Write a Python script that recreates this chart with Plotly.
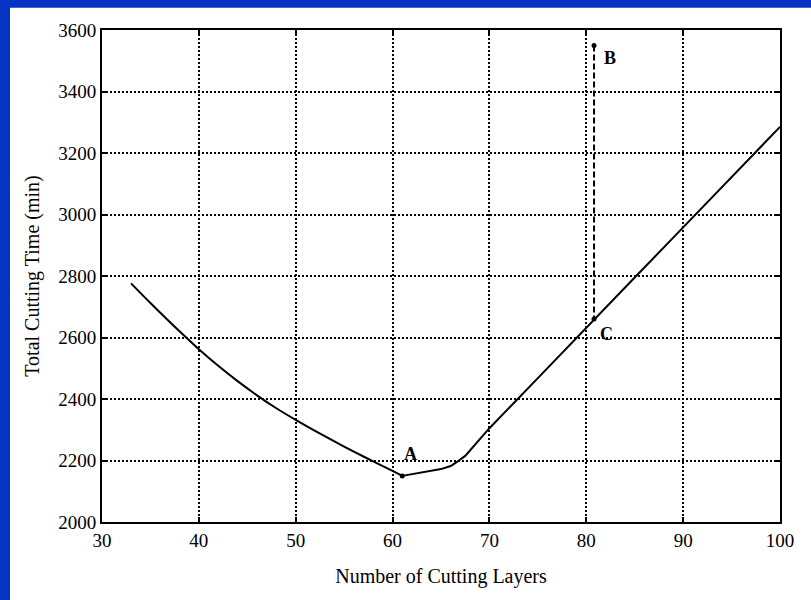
import plotly.graph_objects as go

# Data
left_x = [33, 35, 38, 40, 42, 44, 46, 48, 50, 52, 54, 56, 58, 60, 61]
left_y = [2776, 2712, 2620, 2562, 2508, 2458, 2412, 2370, 2332, 2296, 2262, 2229, 2197, 2166, 2150]
right_x = [61, 63, 65, 66, 66.5, 67.5, 70, 75, 80, 85, 90, 95, 100]
right_y = [2150, 2160, 2172, 2182, 2192, 2215, 2305, 2468, 2630, 2795, 2958, 3122, 3285]

point_names = ["A", "B", "C"]
point_x = [61, 80.8, 80.8]
point_y = [2150, 3550, 2660]

bc_x = [80.8, 80.8]
bc_y = [3550, 2660]

x_ticks = [30, 40, 50, 60, 70, 80, 90, 100]
y_ticks = [2000, 2200, 2400, 2600, 2800, 3000, 3200, 3400, 3600]

serif = "Liberation Serif, Times New Roman, serif"

fig = go.Figure()
fig.add_trace(go.Scatter(x=left_x, y=left_y, mode="lines", line_shape="spline",
                         line=dict(color="black", width=2, smoothing=0.8), showlegend=False))
fig.add_trace(go.Scatter(x=right_x, y=right_y, mode="lines",
                         line=dict(color="black", width=2), showlegend=False))
fig.add_trace(go.Scatter(x=bc_x, y=bc_y, mode="lines",
                         line=dict(color="black", width=2, dash="6px,3px"), showlegend=False))
fig.add_trace(go.Scatter(x=point_x, y=point_y, mode="markers",
                         marker=dict(color="black", size=5), showlegend=False))

label_dx = [0.8, 1.6, 1.3]
label_dy = [70, -40, -50]
for n, x, y, dx, dy in zip(point_names, point_x, point_y, label_dx, label_dy):
    fig.add_annotation(x=x + dx, y=y + dy, text="<b>%s</b>" % n, showarrow=False,
                       font=dict(family=serif, size=18, color="black"))

# white scanned sheet on blue slide
fig.add_shape(type="rect", xref="paper", yref="paper",
              x0=-0.1357, x1=1.2, y0=-0.3, y1=1.045,
              fillcolor="white", line=dict(width=0), layer="below")

axis_common = dict(showline=True, linecolor="black", linewidth=2, mirror="ticks",
                   ticks="inside", ticklen=5, tickwidth=2, tickcolor="black",
                   showgrid=True, gridcolor="black", gridwidth=1.5, griddash="2px,2px",
                   zeroline=False,
                   tickfont=dict(family=serif, size=19, color="black"))

fig.update_xaxes(range=[30, 100], tickvals=x_ticks,
                 title=dict(text="Number of Cutting Layers", font=dict(family=serif, size=20, color="black"),
                            standoff=19),
                 **axis_common)
fig.update_yaxes(range=[2000, 3600], tickvals=y_ticks,
                 title=dict(text="Total Cutting Time (min)", font=dict(family=serif, size=20, color="black"),
                            standoff=13),
                 **axis_common)

fig.update_layout(width=811, height=600,
                  margin=dict(l=102, r=31, t=30, b=78),
                  paper_bgcolor="#0633c4", plot_bgcolor="white",
                  showlegend=False)

fig.write_html("out.html", config={"displayModeBar": False},
               post_script="document.body.style.margin='0';document.body.style.background='#0633c4';"
                           "document.body.style.overflow='hidden';")
